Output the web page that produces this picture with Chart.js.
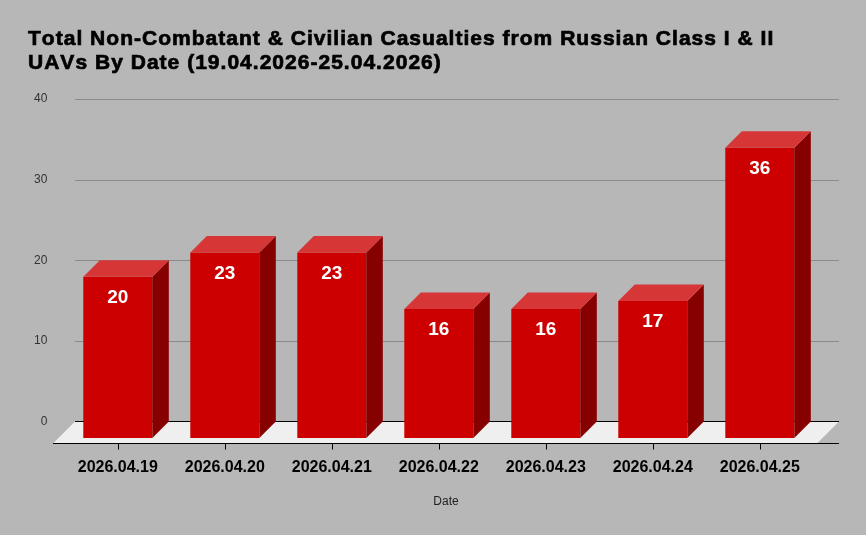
<!DOCTYPE html>
<html>
<head>
<meta charset="utf-8">
<script src="https://cdn.jsdelivr.net/npm/chart.js@4.4.1/dist/chart.umd.min.js"></script>
<style>
  html, body { margin: 0; padding: 0; background: #b7b7b7; }
  #wrap { width: 866px; height: 535px; }
</style>
</head>
<body>
<div id="wrap"><canvas id="chart_uav"></canvas></div>
<script>
// data
const dates = ['2026.04.19', '2026.04.20', '2026.04.21', '2026.04.22', '2026.04.23', '2026.04.24', '2026.04.25'];
const casualties = [20, 23, 23, 16, 16, 17, 36];
const yMax = 40;
const yStep = 10;
const titleLines = ['Total Non-Combatant & Civilian Casualties from Russian Class I & II', 'UAVs By Date (19.04.2026-25.04.2026)'];
const xTitle = 'Date';

const FONT = "'Liberation Sans', Arial, sans-serif";
const DEPTH = 16.5;   // bar depth
const FLOOR = 22;     // floor depth

// heavy, slightly spaced title like the original one
const heavyTitle = {
  id: 'heavyTitle',
  afterDraw(chart) {
    const ctx = chart.ctx;
    ctx.save();
    ctx.font = 'bold 21px ' + FONT;
    ctx.fillStyle = '#000';
    ctx.strokeStyle = '#000';
    ctx.lineWidth = 0.7;
    ctx.textBaseline = 'alphabetic';
    ctx.textAlign = 'left';
    titleLines.forEach((line, i) => {
      let x = 28;
      const y = 45 + i * 24;
      for (const ch of line) {
        ctx.fillText(ch, x, y);
        ctx.strokeText(ch, x, y);
        x += ctx.measureText(ch).width + 1.02;
      }
    });
    ctx.restore();
  }
};

// the y scale is the back wall, bars are pushed forward by DEPTH
const box3d = {
  id: 'box3d',
  beforeDatasetsDraw(chart) {
    const ctx = chart.ctx;
    const area = chart.chartArea;
    const y = chart.scales.y;
    const left = area.left + 10.7;
    const right = area.right + 25.7;
    const y0 = y.getPixelForValue(0);

    ctx.save();
    ctx.strokeStyle = '#8a8a8a';
    ctx.lineWidth = 1;
    y.ticks.forEach(t => {
      if (t.value === 0) return;
      const py = Math.round(y.getPixelForValue(t.value)) + 0.5;
      ctx.beginPath();
      ctx.moveTo(left, py);
      ctx.lineTo(right, py);
      ctx.stroke();
    });

    // floor
    ctx.fillStyle = '#efefef';
    ctx.beginPath();
    ctx.moveTo(left, y0);
    ctx.lineTo(right, y0);
    ctx.lineTo(right - FLOOR, y0 + FLOOR);
    ctx.lineTo(left - FLOOR, y0 + FLOOR);
    ctx.closePath();
    ctx.fill();

    ctx.strokeStyle = '#000';
    ctx.beginPath();
    ctx.moveTo(left, y0);
    ctx.lineTo(right, y0);
    ctx.moveTo(left - FLOOR, y0 + FLOOR);
    ctx.lineTo(right, y0 + FLOOR);
    ctx.stroke();
    ctx.restore();
  },
  beforeDatasetDraw(chart) {
    chart.ctx.save();
    chart.ctx.translate(0, DEPTH);
  },
  afterDatasetDraw(chart, args) {
    const ctx = chart.ctx;
    ctx.restore();
    ctx.save();
    args.meta.data.forEach(bar => {
      const p = bar.getProps(['x', 'y', 'base', 'width'], true);
      const l = p.x - p.width / 2, r = p.x + p.width / 2;
      const top = p.y + DEPTH, bottom = p.base + DEPTH;
      // side
      ctx.fillStyle = '#870000';
      ctx.beginPath();
      ctx.moveTo(r, top);
      ctx.lineTo(r + DEPTH, top - DEPTH);
      ctx.lineTo(r + DEPTH, bottom - DEPTH);
      ctx.lineTo(r, bottom);
      ctx.closePath();
      ctx.fill();
      // top
      ctx.fillStyle = '#d63636';
      ctx.beginPath();
      ctx.moveTo(l, top);
      ctx.lineTo(l + DEPTH, top - DEPTH);
      ctx.lineTo(r + DEPTH, top - DEPTH);
      ctx.lineTo(r, top);
      ctx.closePath();
      ctx.fill();
    });
    ctx.restore();
  },
  afterDatasetsDraw(chart) {
    const ctx = chart.ctx;
    const meta = chart.getDatasetMeta(0);
    const y0 = chart.scales.y.getPixelForValue(0);
    ctx.save();
    // value labels
    ctx.fillStyle = '#fff';
    ctx.font = 'bold 19px ' + FONT;
    ctx.textAlign = 'center';
    ctx.textBaseline = 'middle';
    meta.data.forEach((bar, i) => {
      ctx.fillText(casualties[i], bar.x, bar.y + DEPTH + 21);
    });
    // tick marks under the floor
    ctx.strokeStyle = '#000';
    ctx.lineWidth = 1;
    meta.data.forEach(bar => {
      const px = Math.round(bar.x) + 0.5;
      ctx.beginPath();
      ctx.moveTo(px, y0 + FLOOR);
      ctx.lineTo(px, y0 + FLOOR + 6);
      ctx.stroke();
    });
    // axis title, centred under the floor
    const area = chart.chartArea;
    ctx.fillStyle = '#222';
    ctx.font = '12px ' + FONT;
    ctx.fillText(xTitle, (area.left + 10.7 - FLOOR + area.right + 25.7) / 2, 502);
    ctx.restore();
  }
};

const chart_uav = new Chart(document.getElementById('chart_uav'), {
  type: 'bar',
  data: {
    labels: dates,
    datasets: [{
      label: 'Casualties',
      data: casualties,
      backgroundColor: '#cc0000',
      borderWidth: 0,
      barPercentage: 0.645,
      categoryPercentage: 1,
      clip: false
    }]
  },
  options: {
    responsive: true,
    maintainAspectRatio: false,
    animation: false,
    devicePixelRatio: 1,
    layout: {
      padding: { left: 28, right: 52.7, top: 99, bottom: 0 }
    },
    plugins: {
      legend: { display: false },
      tooltip: { enabled: false },
      title: { display: false }
    },
    scales: {
      x: {
        grid: { display: false, drawTicks: false },
        border: { display: false },
        ticks: {
          color: '#000',
          padding: 36,
          maxRotation: 0,
          font: { family: FONT, size: 16, weight: 'bold' }
        },
        afterFit(scale) { scale.height = 113.5; }
      },
      y: {
        min: 0,
        max: yMax,
        grid: { display: false, drawTicks: false },
        border: { display: false },
        ticks: {
          stepSize: yStep,
          color: '#333',
          padding: 17,
          font: { family: FONT, size: 12 }
        },
        afterFit(scale) { scale.width = 36.3; }
      }
    }
  },
  plugins: [box3d, heavyTitle]
});
</script>
</body>
</html>
